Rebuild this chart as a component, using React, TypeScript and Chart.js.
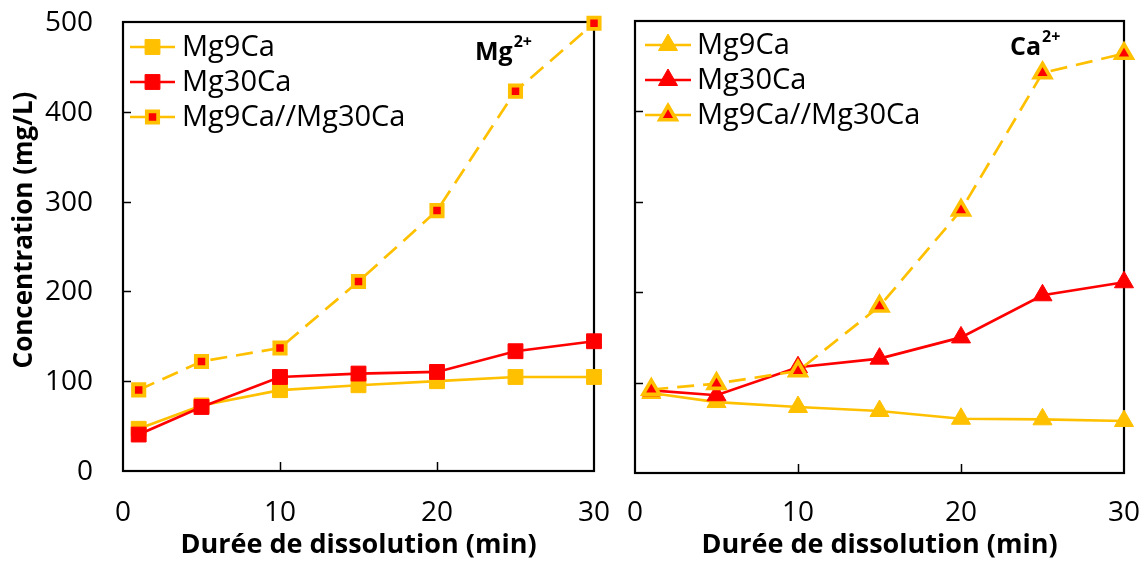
import React, { useEffect, useRef } from 'react';
import { Chart, registerables } from 'chart.js';

Chart.register(...registerables);

// ---------- data ----------
const times = [1, 5, 10, 15, 20, 25, 30];
const seriesNames = ['Mg9Ca', 'Mg30Ca', 'Mg9Ca//Mg30Ca'];
const xTicks = [0, 10, 20, 30];
const yTicks = [0, 100, 200, 300, 400, 500];

// Mg2+ release (mg/L)
const mgMg9Ca = [47, 73, 90, 95.5, 100, 104.7, 104.7];
const mgMg30Ca = [40.6, 71.3, 104.7, 108.5, 110.3, 133.4, 144.5];
const mgCoupled = [90.3, 122, 137, 211, 290, 423, 498.6];

// Ca2+ release (mg/L)
const caMg9Ca = [88.5, 78.5, 73, 68.6, 60, 59.4, 57.5];
const caMg30Ca = [91.5, 86, 117, 126.5, 150, 196.6, 211];
const caCoupled = [92.3, 98.9, 112.8, 184.4, 290.6, 442.5, 464];

const xTitle = 'Durée de dissolution (min)';
const yTitle = 'Concentration (mg/L)';

// ---------- styles ----------
const ORANGE = '#FFC000';
const RED = '#FF0000';
const FONT = "'Open Sans', sans-serif";

type PanelCfg = {
  width: number;
  left: number;
  pad: { left: number; right: number; top: number; bottom: number };
  showYLabels: boolean;
  shape: 'rect' | 'triangle';
  values: number[][];
  legend: { x1: number; x2: number; tx: number; ys: number[] };
  ion: { main: string; x: number; y: number };
  showYTitle: boolean;
};

function pts(vals: number[]) {
  return times.map((t, i) => ({ x: t, y: vals[i] }));
}

function drawMarker(ctx: CanvasRenderingContext2D, shape: string, x: number, y: number, r: number, fill: string, stroke: string, bw: number) {
  ctx.save();
  ctx.beginPath();
  if (shape === 'rect') {
    const s = Math.SQRT1_2 * r;
    ctx.rect(x - s, y - s, 2 * s, 2 * s);
  } else {
    const w = r * Math.sin((2 * Math.PI) / 3);
    ctx.moveTo(x, y - r);
    ctx.lineTo(x + w, y + r / 2);
    ctx.lineTo(x - w, y + r / 2);
    ctx.closePath();
  }
  ctx.fillStyle = fill;
  ctx.fill();
  ctx.lineWidth = bw;
  ctx.strokeStyle = stroke;
  ctx.stroke();
  ctx.restore();
}

function markerSpec(shape: string, idx: number) {
  if (shape === 'rect') {
    if (idx === 2) return { r: 8, fill: RED, stroke: ORANGE, bw: 3.8 };
    const c = idx === 0 ? ORANGE : RED;
    return { r: 10.5, fill: c, stroke: c, bw: 1 };
  }
  if (idx === 2) return { r: 9.5, fill: RED, stroke: ORANGE, bw: 3.6 };
  const c = idx === 0 ? ORANGE : RED;
  return { r: 11, fill: c, stroke: c, bw: 1 };
}

function makeConfig(cfg: PanelCfg): any {
  const colors = [ORANGE, RED, ORANGE];
  const orders = [3, 2, 1];
  const datasets = cfg.values.map((vals, i) => {
    const m = markerSpec(cfg.shape, i);
    return {
      label: seriesNames[i],
      data: pts(vals),
      borderColor: colors[i],
      borderWidth: 2.7,
      borderDash: i === 2 ? [17, 9] : [],
      pointStyle: cfg.shape,
      pointRadius: m.r,
      pointHoverRadius: m.r,
      pointBackgroundColor: m.fill,
      pointBorderColor: m.stroke,
      pointBorderWidth: m.bw,
      tension: 0,
      fill: false,
      clip: false,
      order: orders[i],
    };
  });

  const decor = {
    id: 'decor',
    beforeDatasetsDraw(chart: any) {
      const { ctx, chartArea: a, scales } = chart;
      ctx.save();
      ctx.strokeStyle = '#000';
      ctx.lineWidth = 2.2;
      ctx.strokeRect(a.left, a.top, a.right - a.left, a.bottom - a.top);
      ctx.beginPath();
      yTicks.slice(1, -1).forEach((v) => {
        const py = Math.round(scales.y.getPixelForValue(v)) + 0.5;
        ctx.moveTo(a.left, py);
        ctx.lineTo(a.left + 8, py);
      });
      xTicks.slice(1, -1).forEach((v) => {
        const px = Math.round(scales.x.getPixelForValue(v)) + 0.5;
        ctx.moveTo(px, a.bottom);
        ctx.lineTo(px, a.bottom - 9);
      });
      ctx.lineWidth = 1.5;
      ctx.stroke();

      // tick labels
      ctx.fillStyle = '#000';
      ctx.font = `28px ${FONT}`;
      ctx.textBaseline = 'middle';
      ctx.textAlign = 'center';
      xTicks.forEach((v) => {
        ctx.fillText(String(v), scales.x.getPixelForValue(v), 513);
      });
      if (cfg.showYLabels) {
        ctx.textAlign = 'right';
        yTicks.forEach((v) => {
          ctx.fillText(String(v), a.left - 30, scales.y.getPixelForValue(v) + 1);
        });
      }
      ctx.restore();
    },
    afterDatasetsDraw(chart: any) {
      const { ctx, chartArea: a } = chart;
      ctx.save();
      // legend
      const lg = cfg.legend;
      seriesNames.forEach((name, i) => {
        const y = lg.ys[i];
        ctx.beginPath();
        ctx.strokeStyle = colors[i];
        ctx.lineWidth = 2.7;
        ctx.moveTo(lg.x1, y);
        ctx.lineTo(lg.x2, y);
        ctx.stroke();
        const m = markerSpec(cfg.shape, i);
        drawMarker(ctx, cfg.shape, (lg.x1 + lg.x2) / 2, y, m.r, m.fill, m.stroke, m.bw);
        ctx.fillStyle = '#000';
        ctx.font = `29px ${FONT}`;
        ctx.textAlign = 'left';
        ctx.textBaseline = 'middle';
        ctx.fillText(name, lg.tx, y + 1);
      });
      // ion label
      ctx.fillStyle = '#000';
      ctx.textAlign = 'left';
      ctx.textBaseline = 'alphabetic';
      ctx.font = `bold 25px ${FONT}`;
      ctx.fillText(cfg.ion.main, cfg.ion.x, cfg.ion.y);
      const w = ctx.measureText(cfg.ion.main).width;
      ctx.font = `bold 16px ${FONT}`;
      ctx.fillText('2+', cfg.ion.x + w + 1, cfg.ion.y - 13);
      // x title
      ctx.font = `bold 27px ${FONT}`;
      ctx.textAlign = 'center';
      ctx.textBaseline = 'middle';
      ctx.fillText(xTitle, (a.left + a.right) / 2, 545);
      // y title
      if (cfg.showYTitle) {
        ctx.font = `bold 26px ${FONT}`;
        ctx.translate(25, 230);
        ctx.rotate(-Math.PI / 2);
        ctx.fillText(yTitle, 0, 0);
      }
      ctx.restore();
    },
  };

  return {
    type: 'line',
    data: { datasets },
    options: {
      animation: false,
      responsive: false,
      maintainAspectRatio: false,
      events: [],
      layout: { padding: cfg.pad },
      plugins: { legend: { display: false }, tooltip: { enabled: false } },
      scales: {
        x: {
          type: 'linear',
          display: false,
          min: 0,
          max: 30,
          afterBuildTicks: (s: any) => {
            s.ticks = xTicks.map((v) => ({ value: v }));
          },
        },
        y: {
          type: 'linear',
          display: false,
          min: 0,
          max: 500,
          afterBuildTicks: (s: any) => {
            s.ticks = yTicks.map((v) => ({ value: v }));
          },
        },
      },
    },
    plugins: [decor],
  };
}

function Panel({ cfg }: { cfg: PanelCfg }) {
  const ref = useRef<HTMLCanvasElement>(null);
  useEffect(() => {
    if (!ref.current) return;
    const chart = new Chart(ref.current, makeConfig(cfg));
    return () => chart.destroy();
  }, [cfg]);
  return (
    <canvas
      ref={ref}
      width={cfg.width}
      height={563}
      style={{ position: 'absolute', left: cfg.left, top: 0, width: cfg.width, height: 563, display: 'block' }}
    />
  );
}

const leftCfg: PanelCfg = {
  width: 610,
  left: 0,
  pad: { left: 123, right: 16, top: 22, bottom: 92 },
  showYLabels: true,
  shape: 'rect',
  values: [mgMg9Ca, mgMg30Ca, mgCoupled],
  legend: { x1: 130, x2: 175, tx: 182, ys: [47, 82, 117] },
  ion: { main: 'Mg', x: 475, y: 60 },
  showYTitle: true,
};

const rightCfg: PanelCfg = {
  width: 534,
  left: 610,
  pad: { left: 25, right: 20, top: 21, bottom: 90 },
  showYLabels: false,
  shape: 'triangle',
  values: [caMg9Ca, caMg30Ca, caCoupled],
  legend: { x1: 35, x2: 81, tx: 87, ys: [45, 80, 115] },
  ion: { main: 'Ca', x: 400, y: 55 },
  showYTitle: false,
};

export default function App() {
  return (
    <div style={{ position: 'absolute', left: 0, top: 0, width: 1144, height: 563, overflow: 'hidden', background: '#fff' }}>
      <Panel cfg={leftCfg} />
      <Panel cfg={rightCfg} />
    </div>
  );
}
